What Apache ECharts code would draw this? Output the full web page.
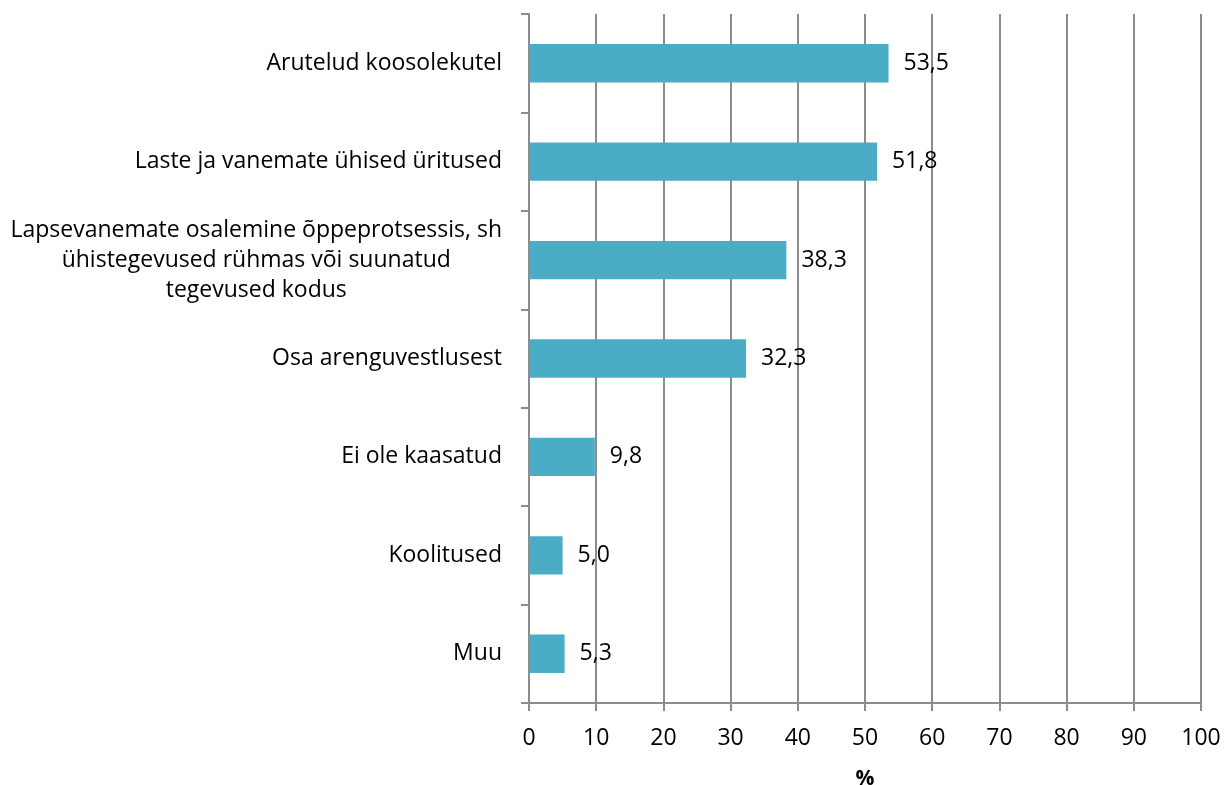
<!DOCTYPE html>
<html>
<head>
<meta charset="utf-8">
<script src="https://cdn.jsdelivr.net/npm/echarts@6/dist/echarts.min.js"></script>
<style>
  html, body { margin: 0; padding: 0; background: #fff; }
  #chart { width: 1230px; height: 785px; }
</style>
</head>
<body>
<div id="chart"></div>
<script>
// kategooriad ülevalt alla
var categories = [
  'Arutelud koosolekutel',
  'Laste ja vanemate ühised üritused',
  'Lapsevanemate osalemine õppeprotsessis, sh\nühistegevused rühmas või suunatud\ntegevused kodus',
  'Osa arenguvestlusest',
  'Ei ole kaasatud',
  'Koolitused',
  'Muu'
];
var values = [53.5, 51.8, 38.3, 32.3, 9.8, 5.0, 5.3];
var xTicks = [0, 10, 20, 30, 40, 50, 60, 70, 80, 90, 100];

var font = '"Open Sans", "Noto Sans", sans-serif';
var axisGrey = '#8c8c8c';

var chart = echarts.init(document.getElementById('chart'));
var option = {
  animation: false,
  textStyle: { fontFamily: font },
  grid: { left: 529, right: 29, top: 14, bottom: 82, containLabel: false, outerBoundsMode: 'none' },
  xAxis: {
    type: 'value',
    min: xTicks[0],
    max: xTicks[xTicks.length - 1],
    interval: 10,
    name: '%',
    nameLocation: 'middle',
    nameGap: 66,
    nameTextStyle: { fontFamily: font, fontSize: 21, fontWeight: 'bold', color: '#000' },
    axisLine: { show: true, lineStyle: { color: axisGrey, width: 2 } },
    axisTick: { show: true, length: 8, lineStyle: { color: axisGrey, width: 2 } },
    axisLabel: { fontFamily: font, fontSize: 23, color: '#000', margin: 24 },
    splitLine: { show: true, lineStyle: { color: axisGrey, width: 2 } }
  },
  yAxis: {
    type: 'category',
    inverse: true,
    data: categories,
    axisLine: { show: true, lineStyle: { color: axisGrey, width: 2 } },
    axisTick: { show: true, length: 8, lineStyle: { color: axisGrey, width: 2 } },
    axisLabel: {
      fontFamily: font, fontSize: 23, color: '#000', margin: 27, lineHeight: 30, align: 'right',
      // mitmerealine silt on keskjoondatud
      formatter: function (v) {
        if (v.indexOf('\n') < 0) return v;
        return v.split('\n').map(function (s) { return '{c|' + s + '}'; }).join('\n');
      },
      rich: {
        c: { align: 'center', fontFamily: font, fontSize: 23, lineHeight: 30, color: '#000' }
      }
    },
    splitLine: { show: false }
  },
  series: [{
    type: 'bar',
    data: values,
    barWidth: '39%',
    itemStyle: { color: '#4BACC6' },
    label: {
      show: true,
      position: 'right',
      distance: 15,
      fontFamily: font,
      fontSize: 23,
      color: '#000',
      formatter: function (p) { return p.value.toFixed(1).replace('.', ','); }
    }
  }]
};
chart.setOption(option);
</script>
</body>
</html>
